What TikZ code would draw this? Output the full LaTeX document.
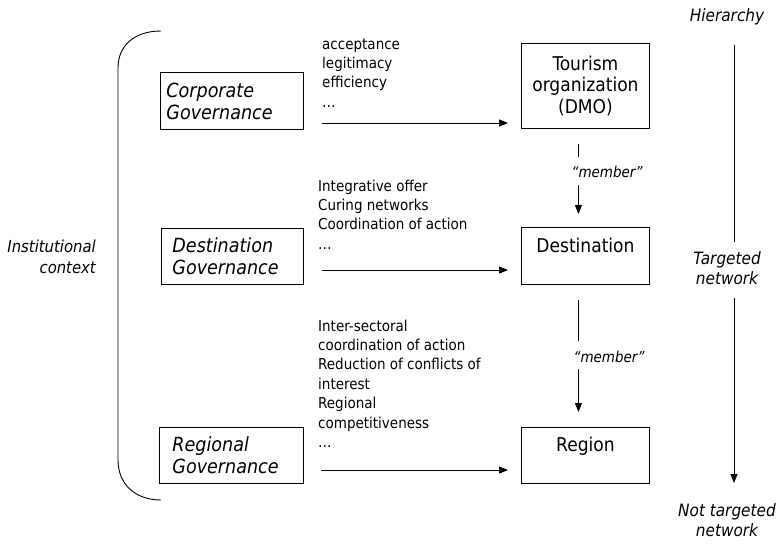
\documentclass[tikz,border=0pt]{standalone}
\usepackage{fontspec}
\setmainfont{DejaVu Sans Condensed}
\usetikzlibrary{arrows.meta,calc}
\begin{document}
\begin{tikzpicture}[x=1pt,y=-1pt,
  every node/.style={inner sep=0pt},
  conn/.style={line width=0.9pt},
  arr/.style={conn,-{Triangle[length=9pt,width=7pt]}},
  lbox/.style={draw,line width=0.9pt,align=left,anchor=north west,
    font=\fontsize{19.5}{22}\selectfont\itshape},
  rbox/.style={draw,line width=0.9pt,align=center,anchor=north west,
    minimum width=128pt,font=\fontsize{19}{21.5}\selectfont},
  note/.style={align=left,anchor=north west,font=\fontsize{15}{19.4}\selectfont},
  side/.style={align=center,font=\fontsize{17}{20}\selectfont\itshape},
  mem/.style={font=\fontsize{15}{18}\selectfont\itshape}
]
\useasboundingbox (0,0) rectangle (781,546);

% institutional bracket
\draw[conn] (161,31) .. controls (135,31) and (118,45) .. (118,68) -- (118,460)
  .. controls (118,484) and (135,500) .. (161,500);
\node[align=right,anchor=east,font=\fontsize{16.5}{21}\selectfont\itshape] (inst) at (96,257) {Institutional\\context};

% left boxes
\node[lbox,inner xsep=6pt,text width=131pt,minimum height=57pt] (cg) at (160,72) {Corporate\\Governance};
\node[lbox,inner xsep=11pt,text width=120pt,minimum height=56pt] (dg) at (161,228) {Destination\\Governance};
\node[lbox,inner xsep=13pt,text width=118pt,minimum height=56pt] (rg) at (159,427) {Regional\\Governance};

% right boxes
\node[rbox,minimum height=85pt] (to) at (521,43) {Tourism\\organization\\(DMO)};
\node[rbox,text height=25pt,text depth=32pt] (dest) at (521,227) {Destination};
\node[rbox,text height=24pt,text depth=32pt] (reg) at (521,427) {Region};

% notes
\node[note] (n1) at (322,35.4) {\strut acceptance\\legitimacy\\efficiency\\…};
\node[note] (n2) at (318,177.4) {\strut Integrative offer\\Curing networks\\Coordination of action\\…};
\node[note] (n3) at (318,317.4) {\strut Inter-sectoral\\coordination of action\\Reduction of conflicts of\\interest\\Regional\\competitiveness\\…};

% horizontal arrows
\coordinate (a1) at (322,123);
\coordinate (a2) at (322,270);
\coordinate (a3) at (321,470);
\draw[arr] (a1) -- ($(a1 -| to.west)+(-13,0)$);
\draw[arr] (a2) -- ($(a2 -| dest.west)+(-13,0)$);
\draw[arr] (a3) -- ($(a3 -| reg.west)+(-13,0)$);

% member arrows
\node[mem] (m1) at (607,172) {“member”};
\node[mem] (m2) at (609,357) {“member”};
\draw[conn] ($(to.south)+(-7,15)$) -- ($(to.south)+(-7,28)$);
\draw[arr] ($(dest.north)+(-7,-42)$) -- ($(dest.north)+(-7,-13)$);
\draw[conn] ($(dest.south)+(-7,15)$) -- ($(dest.south)+(-7,56)$);
\draw[arr] ($(reg.north)+(-7,-58)$) -- ($(reg.north)+(-7,-15)$);

% hierarchy axis
\node[side] (hier) at (727,17) {Hierarchy};
\node[side] (tn) at (727,268) {Targeted\\network};
\node[side] (ntn) at (727,520) {Not targeted\\network};
\coordinate (h1) at (734,45);
\coordinate (h2) at (734,242);
\coordinate (h3) at (734,298);
\coordinate (h4) at (734,483);
\draw[conn] (h1) -- (h2);
\draw[arr] (h3) -- (h4);
\end{tikzpicture}
\end{document}
